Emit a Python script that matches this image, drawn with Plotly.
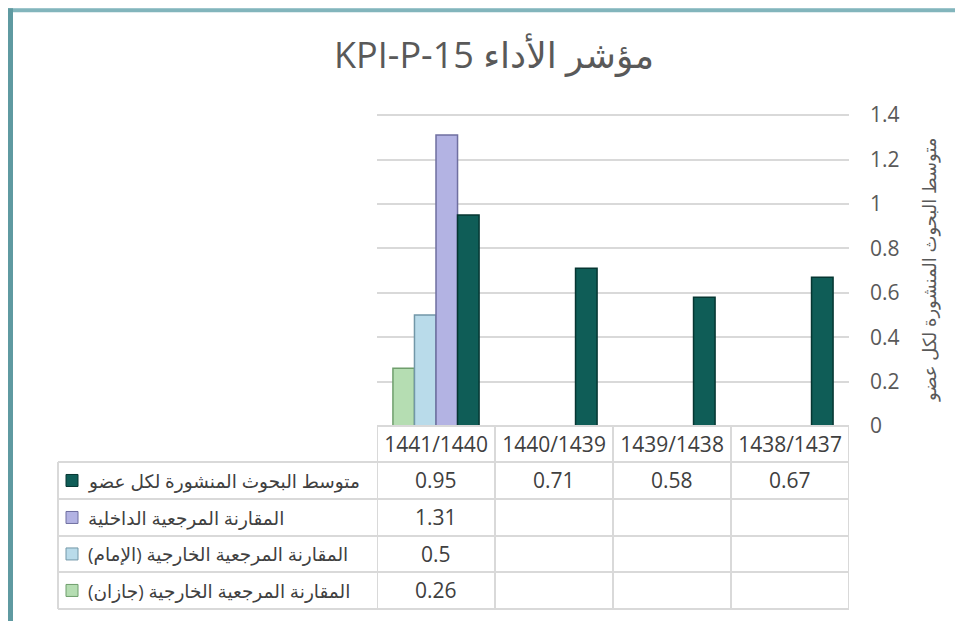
import plotly.graph_objects as go

# ---------------- data ----------------
categories = ["1441/1440", "1440/1439", "1439/1438", "1438/1437"]

name_avg = "متوسط البحوث المنشورة لكل عضو"
name_internal = "المقارنة المرجعية الداخلية"
name_imam = "المقارنة المرجعية الخارجية (الإمام)"
name_jazan = "المقارنة المرجعية الخارجية (جازان)"

avg_values = [0.95, 0.71, 0.58, 0.67]
internal_values = [1.31, None, None, None]
imam_values = [0.5, None, None, None]
jazan_values = [0.26, None, None, None]

y_tick_values = [0, 0.2, 0.4, 0.6, 0.8, 1, 1.2, 1.4]
y_tick_labels = ["0", "0.2", "0.4", "0.6", "0.8", "1", "1.2", "1.4"]

title_text = "مؤشر الأداء KPI-P-15"
y_title = "متوسط البحوث المنشورة لكل عضو"

# ---------------- styles ----------------
W, H = 963, 621
OFF = 8  # page body margin
Y_MAX = 1.405  # a hair above 1.4 so the top gridline is drawn
L, R, B = 377, 849, 426  # plot area in page pixels
T = B - 311 * Y_MAX / 1.4
RLE, PDF = "\u202b", "\u202c"
FONT = "Open Sans, DejaVu Sans, sans-serif"
GRID = "#d9d9d9"
TXT = "#404040"

colors = {
    "jazan": ("#b5ddb2", "#6f9e6c"),
    "imam": ("#b9dbea", "#7297a8"),
    "internal": ("#b3b3e3", "#6f6fa0"),
    "avg": ("#0f5d57", "#063632"),
}


def px2x(px):
    return (px - L) / (R - L)


def py2y(py):
    return (B - py) / (B - T)


fig = go.Figure()

bar_series = [
    (name_jazan, jazan_values, "jazan"),
    (name_imam, imam_values, "imam"),
    (name_internal, internal_values, "internal"),
    (name_avg, avg_values, "avg"),
]
for nm, vals, key in bar_series:
    fill, edge = colors[key]
    fig.add_trace(go.Bar(
        x=categories, y=vals, name=nm,
        marker=dict(color=fill, line=dict(color=edge, width=1.5)),
        showlegend=False,
    ))

shapes = []
annotations = []

# --- chart frame (cropped border) ---
shapes += [
    dict(type="rect", xref="paper", yref="paper", x0=px2x(3), x1=px2x(985),
         y0=py2y(3), y1=py2y(8), fillcolor="#d4e6e9", line=dict(width=0), layer="below"),
    dict(type="rect", xref="paper", yref="paper", x0=px2x(8), x1=px2x(985),
         y0=py2y(8), y1=py2y(12), fillcolor="#82b5bc", line=dict(width=0), layer="below"),
    dict(type="rect", xref="paper", yref="paper", x0=px2x(3), x1=px2x(8),
         y0=py2y(3), y1=py2y(640), fillcolor="#cfe2e5", line=dict(width=0), layer="below"),
    dict(type="rect", xref="paper", yref="paper", x0=px2x(8), x1=px2x(13),
         y0=py2y(8), y1=py2y(640), fillcolor="#5f9aa1", line=dict(width=0), layer="below"),
]

# --- data table ---
row_edges = [462, 499, 536, 572, 609]
table_left = 58
line = dict(color=GRID, width=2)
shapes.append(dict(type="line", xref="x", yref="paper", x0=-0.5, x1=len(categories) - 0.5,
                   y0=py2y(B), y1=py2y(B), line=line))
for ry in row_edges:
    shapes.append(dict(type="line", xref="paper", yref="paper", x0=px2x(table_left), x1=1,
                       y0=py2y(ry), y1=py2y(ry), line=line))
shapes.append(dict(type="line", xref="paper", yref="paper", x0=px2x(table_left), x1=px2x(table_left),
                   y0=py2y(row_edges[0]), y1=py2y(row_edges[-1]), line=line))
for k in range(len(categories) + 1):
    shapes.append(dict(type="line", xref="x", yref="paper", x0=k - 0.5, x1=k - 0.5,
                       y0=py2y(B), y1=py2y(row_edges[-1]), line=line))

table_rows = [
    (name_avg, avg_values, "avg"),
    (name_internal, internal_values, "internal"),
    (name_imam, imam_values, "imam"),
    (name_jazan, jazan_values, "jazan"),
]
for i, (nm, vals, key) in enumerate(table_rows):
    cy = (row_edges[i] + row_edges[i + 1]) / 2
    fill, edge = colors[key]
    shapes.append(dict(type="rect", xref="paper", yref="paper", x0=px2x(66), x1=px2x(78),
                       y0=py2y(cy + 6), y1=py2y(cy - 6), fillcolor=fill,
                       line=dict(color=edge, width=1)))
    annotations.append(dict(text=RLE + nm + PDF, xref="paper", yref="paper", x=px2x(86),
                            y=py2y(cy), xanchor="left", yanchor="middle", showarrow=False,
                            font=dict(family=FONT, size=18.5, color=TXT)))
    for j, v in enumerate(vals):
        if v is None:
            continue
        annotations.append(dict(text=str(v), xref="x", yref="paper", x=categories[j],
                                y=py2y(cy), xanchor="center", yanchor="middle", showarrow=False,
                                font=dict(family=FONT, size=21, color=TXT)))

# --- y title (reads top-to-bottom) ---
annotations.append(dict(text=y_title, xref="paper", yref="paper", x=px2x(929), y=py2y(270),
                        xanchor="center", yanchor="middle", textangle=-90, showarrow=False,
                        font=dict(family=FONT, size=18, color="#595959")))

fig.update_layout(
    width=W, height=H,
    margin=dict(l=L - OFF, r=W - (R - OFF), t=T - OFF, b=H - (B - OFF), pad=0),
    paper_bgcolor="white", plot_bgcolor="white",
    barmode="group", bargap=0.27, bargroupgap=0,
    title=dict(text=RLE + title_text + PDF, x=px2x(494), xref="paper", xanchor="center",
               y=1 - (55 - OFF) / H, yanchor="middle",
               font=dict(family=FONT, size=36, color="#595959")),
    font=dict(family=FONT, color="#595959"),
    xaxis=dict(type="category", range=[-0.5, len(categories) - 0.5], showgrid=False,
               showline=False, zeroline=False, ticks="", automargin=False,
               tickfont=dict(family=FONT, size=21, color=TXT), ticklabelstandoff=4),
    yaxis=dict(side="right", range=[0, Y_MAX], tickvals=y_tick_values, ticktext=y_tick_labels,
               showgrid=True, gridcolor=GRID, gridwidth=1.5, zeroline=False, showline=False,
               ticks="", automargin=False, ticklabelstandoff=20,
               tickfont=dict(family=FONT, size=21, color="#595959")),
    shapes=shapes,
    annotations=annotations,
)

fig.write_html("out.html")
